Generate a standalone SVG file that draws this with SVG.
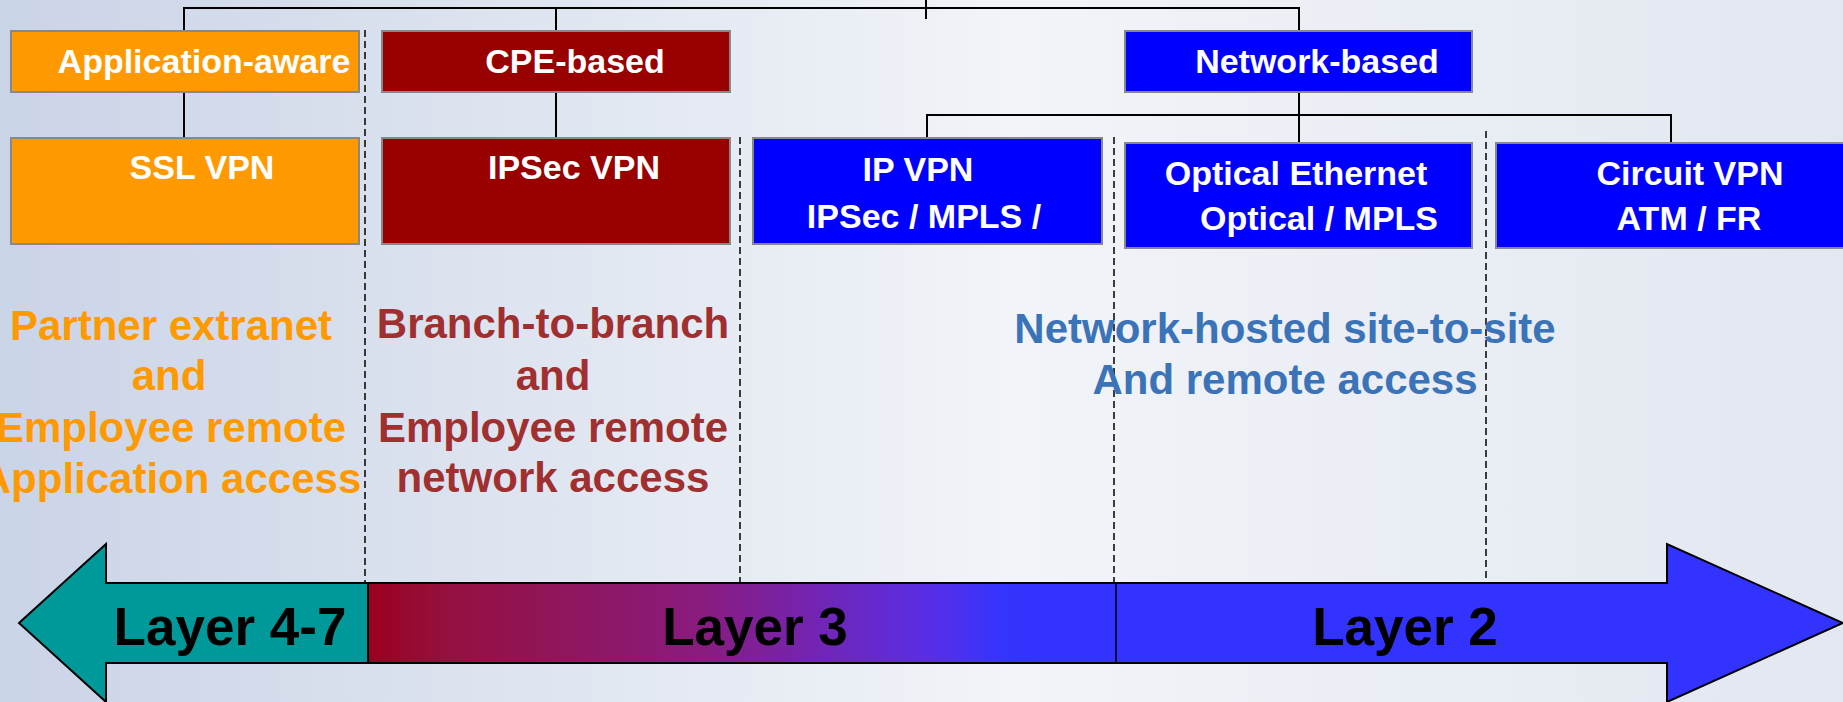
<svg xmlns="http://www.w3.org/2000/svg" width="1843" height="702" viewBox="0 0 1843 702">
<defs>
<linearGradient id="bg" x1="0" y1="0" x2="1" y2="0">
<stop offset="0" stop-color="#CAD4E7"/>
<stop offset="0.55" stop-color="#F1F4F8"/>
<stop offset="1" stop-color="#E2E7F0"/>
</linearGradient>
<linearGradient id="l3" gradientUnits="userSpaceOnUse" x1="368" y1="0" x2="1116" y2="0">
<stop offset="0" stop-color="#9A001E"/>
<stop offset="0.1" stop-color="#95103E"/>
<stop offset="0.45" stop-color="#891C80"/>
<stop offset="0.75" stop-color="#5A2EE6"/>
<stop offset="0.85" stop-color="#3434FF"/>
<stop offset="1" stop-color="#3333FF"/>
</linearGradient>
<style>
.box{stroke:#888888;stroke-width:2}
.bt{font-family:"Liberation Sans",Arial,sans-serif;font-weight:bold;font-size:34px;fill:#FFFFFF;text-anchor:middle}
.dt{font-family:"Liberation Sans",Arial,sans-serif;font-weight:bold;font-size:42px;text-anchor:middle}
.lt{font-family:"Liberation Sans",Arial,sans-serif;font-weight:bold;font-size:53px;fill:#000000;text-anchor:middle}
.cn{stroke:#000000;stroke-width:2;fill:none}
.dash{stroke:#000000;stroke-width:1.5;stroke-dasharray:7,4;fill:none}
</style>
</defs>
<rect x="0" y="0" width="1843" height="702" fill="url(#bg)"/>

<g id="dividers">
<line class="dash" x1="365" y1="30" x2="365" y2="583"/>
<line class="dash" x1="740" y1="137" x2="740" y2="583"/>
<line class="dash" x1="1114" y1="137" x2="1114" y2="583"/>
<line class="dash" x1="1486" y1="131" x2="1486" y2="583"/>
</g>

<g id="connectors">
<polyline class="cn" points="184,30 184,8 1299,8 1299,30"/>
<line class="cn" x1="556" y1="8" x2="556" y2="30"/>
<line class="cn" x1="926" y1="0" x2="926" y2="19"/>
<line class="cn" x1="184" y1="92" x2="184" y2="138"/>
<line class="cn" x1="556" y1="92" x2="556" y2="138"/>
<line class="cn" x1="1299" y1="92" x2="1299" y2="143"/>
<polyline class="cn" points="927,138 927,115 1671,115 1671,143"/>
</g>

<g id="app-aware">
<rect class="box" x="11" y="31" width="348" height="61" fill="#FF9900"/>
<text class="bt" x="204" y="73">Application-aware</text>
</g>
<g id="cpe-based">
<rect class="box" x="382" y="31" width="348" height="61" fill="#990000"/>
<text class="bt" x="575" y="73">CPE-based</text>
</g>
<g id="network-based">
<rect class="box" x="1125" y="31" width="347" height="61" fill="#0000FF"/>
<text class="bt" x="1317" y="73">Network-based</text>
</g>
<g id="ssl-vpn">
<rect class="box" x="11" y="138" width="348" height="106" fill="#FF9900"/>
<text class="bt" x="202" y="179">SSL VPN</text>
</g>
<g id="ipsec-vpn">
<rect class="box" x="382" y="138" width="348" height="106" fill="#990000"/>
<text class="bt" x="574" y="179">IPSec VPN</text>
</g>
<g id="ip-vpn">
<rect class="box" x="753" y="138" width="349" height="106" fill="#0000FF"/>
<text class="bt" x="918" y="181">IP VPN</text>
<text class="bt" x="924" y="228">IPSec / MPLS /</text>
</g>
<g id="optical-ethernet">
<rect class="box" x="1125" y="143" width="347" height="105" fill="#0000FF"/>
<text class="bt" x="1296" y="185">Optical Ethernet</text>
<text class="bt" x="1319" y="230">Optical / MPLS</text>
</g>
<g id="circuit-vpn">
<rect class="box" x="1496" y="143" width="360" height="105" fill="#0000FF"/>
<text class="bt" x="1690" y="185">Circuit VPN</text>
<text class="bt" x="1689" y="230">ATM / FR</text>
</g>

<g id="desc-app" fill="#FF9900">
<text class="dt" x="171" y="340">Partner extranet</text>
<text class="dt" x="169" y="390">and</text>
<text class="dt" x="171" y="442">Employee remote</text>
<text class="dt" x="171" y="493">Application access</text>
</g>
<g id="desc-cpe" fill="#A03030">
<text class="dt" x="553" y="338">Branch-to-branch</text>
<text class="dt" x="553" y="390">and</text>
<text class="dt" x="553" y="442">Employee remote</text>
<text class="dt" x="553" y="492">network access</text>
</g>
<g id="desc-net" fill="#3B73B9">
<text class="dt" x="1285" y="343">Network-hosted site-to-site</text>
<text class="dt" x="1285" y="394">And remote access</text>
</g>

<g id="layer-arrow">
<polygon points="19,623 106,544 106,583 368,583 368,663 106,663 106,702" fill="#009999"/>
<rect x="368" y="583" width="748" height="80" fill="url(#l3)"/>
<polygon points="1116,583 1667,583 1667,544 1843,623 1667,702 1667,663 1116,663" fill="#3333FF"/>
<path d="M19,623 L106,544 L106,583 L1667,583 L1667,544 L1843,623 L1667,702 L1667,663 L106,663 L106,702 Z" fill="none" stroke="#000000" stroke-width="2"/>
<line x1="368" y1="583" x2="368" y2="663" stroke="#000000" stroke-width="2"/>
<line x1="1116" y1="583" x2="1116" y2="663" stroke="#000000" stroke-width="1.5"/>
<text class="lt" x="230" y="645">Layer 4-7</text>
<text class="lt" x="755" y="645">Layer 3</text>
<text class="lt" x="1405" y="645">Layer 2</text>
</g>
</svg>
